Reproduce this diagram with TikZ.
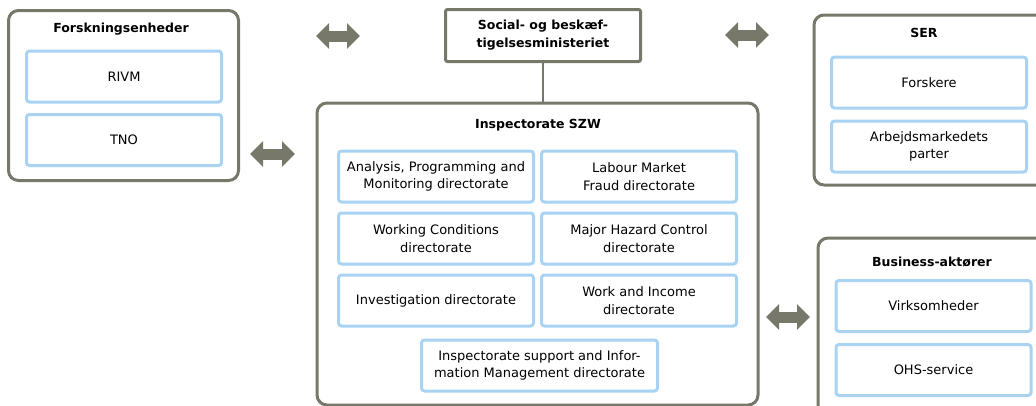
\documentclass[tikz,border=0pt]{standalone}
\usepackage{fontspec}
\setmainfont{DejaVu Sans}
\usetikzlibrary{arrows.meta}
\definecolor{frame}{HTML}{78786A}
\definecolor{unitblue}{HTML}{A8D3F2}

\begin{document}
\begin{tikzpicture}[x=1pt,y=-1pt,
    group/.style={draw=frame, line width=3pt, rounded corners=10pt, inner sep=0pt},
    unit/.style={draw=unitblue, line width=3pt, rounded corners=3pt, minimum width=195pt,
      minimum height=51pt, inner sep=0pt, align=center, font=\fontsize{13}{17.5}\selectfont},
    grouptitle/.style={font=\bfseries\fontsize{12.5}{18}\selectfont, align=center},
    link/.style={draw=frame, line width=11pt,
      {Triangle[length=13pt,width=25pt]}-{Triangle[length=13pt,width=25pt]}}]
      \useasboundingbox (0,0) rectangle (1036,405);
      \clip (0,0) rectangle (1036,405);

      % groups
      \node[group, minimum width=230pt, minimum height=170pt] (forsk) at (123.5,95.5) {};
      \node[group, minimum width=441pt, minimum height=302pt] (szw) at (537.5,254) {};
      \node[group, minimum width=240pt, minimum height=170pt] (ser) at (934,100) {};
      \node[group, minimum width=240pt, minimum height=190pt] (business) at (938,333) {};
      \node[draw=frame, line width=3pt, rounded corners=2pt, minimum width=195pt,
        minimum height=52pt, grouptitle] (ministry) at (543,35.5) {Social- og besk\ae f-\\tigelsesministeriet};

      \node[grouptitle] (forsktitle) at (121,29) {Forskningsenheder};
      \node[grouptitle] (szwtitle) at (538,125) {Inspectorate SZW};
      \node[grouptitle] (sertitle) at (924,33) {SER};
      \node[grouptitle] (businesstitle) at (932,262) {Business-akt\o rer};

      % units
      \node[unit] (rivm) at (124,76.5) {RIVM};
      \node[unit] (tno) at (124,140) {TNO};
      \node[unit] (forskere) at (929,82.5) {Forskere};
      \node[unit] (parter) at (929,146.5) {Arbejdsmarkedets\\parter};
      \node[unit] (virk) at (933.5,306) {Virksomheder};
      \node[unit] (ohs) at (933.5,370) {OHS-service};

      \matrix[column sep={203pt,between origins}, row sep={62pt,between origins}] at (537.5,238.5)
      {
        \node[unit] (apm) {Analysis, Programming and\\Monitoring directorate}; &
        \node[unit] (fraud) {Labour Market\\Fraud directorate}; \\
        \node[unit] (wc) {Working Conditions\\directorate}; &
        \node[unit] (hazard) {Major Hazard Control\\directorate}; \\
        \node[unit] (invest) {Investigation directorate}; &
        \node[unit] (income) {Work and Income\\directorate}; \\
      };
      \node[unit, minimum width=236pt] (support) at (539.5,365.5) {Inspectorate support and Infor-\\mation Management directorate};

      % links
      \draw[frame, line width=2pt] (ministry.south) -- (ministry.south |- szw.north);

      \coordinate (l1) at (316,36);  \coordinate (r1) at (360,36);
      \coordinate (l2) at (725,35);  \coordinate (r2) at (769,35);
      \coordinate (l3) at (250,154); \coordinate (r3) at (295,154);
      \coordinate (l4) at (766,317); \coordinate (r4) at (810,317);
      \draw[link] (l1) -- (r1);
      \draw[link] (l2) -- (r2);
      \draw[link] (l3) -- (r3);
      \draw[link] (l4) -- (r4);
    \end{tikzpicture}
\end{document}
